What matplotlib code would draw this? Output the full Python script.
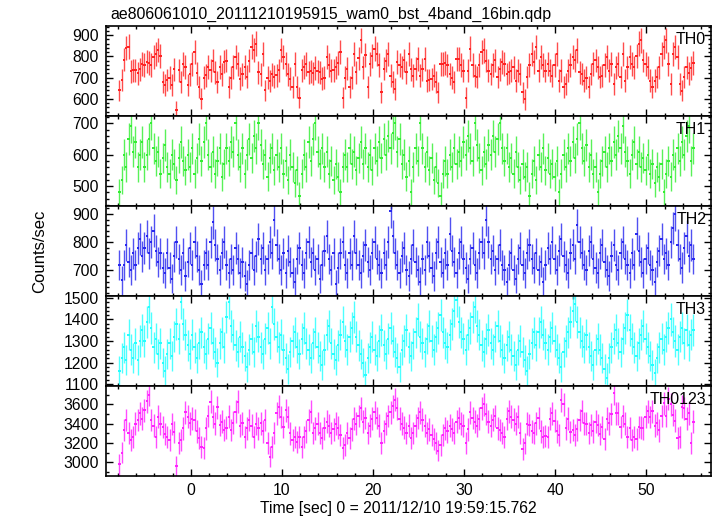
import numpy as np
import matplotlib
matplotlib.use("Agg")
import matplotlib.pyplot as plt
from matplotlib.ticker import MultipleLocator

plt.rcParams['font.family'] = ['Liberation Sans', 'DejaVu Sans']

# Время: начало первого бина и ширина бина (сек)
T0 = -7.95
DT = 0.25

title = "ae806061010_20111210195915_wam0_bst_4band_16bin.qdp"
xlabel = "Time [sec] 0 = 2011/12/10 19:59:15.762"
ylabel = "Counts/sec"
band_names = ["TH0", "TH1", "TH2", "TH3", "TH0123"]

th0 = [640, 690, 785, 840, 845, 730, 735, 735, 720, 740,
       765, 760, 775, 770, 760, 795, 810, 830, 800, 680,
       665, 690, 700, 665, 740, 545, 735, 680, 765, 750,
       665, 715, 765, 820, 720, 655, 600, 700, 710, 750,
       735, 780, 725, 680, 750, 715, 775, 780, 655, 700,
       750, 795, 765, 695, 715, 750, 705, 780, 845, 830,
       860, 725, 715, 810, 640, 700, 685, 715, 705, 710,
       735, 830, 795, 765, 715, 695, 655, 765, 655, 605,
       735, 750, 765, 725, 730, 720, 745, 730, 725,
       695, 700, 797, 760, 733, 735, 749, 770, 820, 606,
       700, 741, 654, 700, 812, 725, 790, 876, 749, 805,
       654, 765, 800, 836, 812, 760, 630, 741, 780, 812,
       709, 680, 646, 773, 760, 749, 781, 725, 812, 740,
       709, 741, 789, 709, 740, 789, 686, 690, 694, 709,
       680, 630, 765, 765, 770, 757, 717, 700, 678, 789,
       789, 760, 733, 606, 733, 836, 760, 709, 702, 760,
       820, 828, 780, 733, 717, 760, 781, 702, 740, 773,
       765, 717, 725, 733, 749, 686, 733,
       717, 630, 598, 702, 760, 812, 773, 844, 733, 797,
       760, 733, 765, 733, 709, 760, 812, 686, 733, 654,
       670, 733, 760, 797, 781, 828, 725, 717, 686, 700,
       654, 717, 765, 781, 749, 702, 709, 760, 797, 733,
       765, 670, 749, 765, 702, 812, 686, 749, 797, 765,
       749, 800, 860, 876, 781, 765, 749, 686, 654, 686,
       702, 749, 812, 844, 876, 765, 670, 812, 844, 797,
       670, 638, 702, 749, 720, 745, 770]

th1 = [480, 520, 600, 560, 650, 690, 610, 640, 560, 600,
       640, 560, 600, 650, 700, 620, 580, 610, 540, 590,
       630, 560, 540, 600, 570, 520, 590, 640, 580, 550,
       600, 560, 620, 540, 590, 650, 580, 640, 700, 600,
       560, 610, 540, 580, 620, 530, 570, 620, 580, 640,
       610, 700, 600, 560, 620, 540, 600, 650, 590, 660,
       620, 700, 630, 570, 600, 530, 590, 620, 550, 600,
       560, 620, 540, 580, 520, 600, 560, 510, 550, 470,
       540, 600, 560, 640, 580, 650, 700, 610, 570, 620,
       560, 610, 540, 580, 520, 570, 530, 480, 560, 600,
       560, 620, 570, 610, 550, 590, 640, 570, 620, 560,
       600, 550, 620, 580, 640, 590, 650, 600, 660, 620,
       670, 700, 610, 650, 570, 600, 530, 580, 480, 560,
       620, 580, 700, 620, 560, 610, 550, 590, 520, 560,
       510, 470, 540, 580, 540, 600, 560, 620, 570, 610,
       580, 640, 600, 660, 620, 580, 700, 630, 590, 550,
       610, 570, 630, 600, 660, 610, 650, 700, 620, 580,
       620, 560, 590, 540, 610, 560, 520, 570, 530, 560,
       470, 540, 580, 520, 600, 560, 620, 550, 590, 540,
       570, 530, 580, 480, 540, 600, 560, 620, 580, 640,
       590, 650, 700, 620, 580, 630, 560, 600, 540, 560,
       480, 540, 580, 610, 560, 620, 580, 640, 600, 660,
       620, 690, 610, 580, 540, 600, 640, 570, 610, 560,
       590, 550, 600, 540, 570, 510, 560, 530, 570, 480,
       540, 580, 530, 600, 560, 620, 580, 640, 600, 660,
       690, 580, 620]

th2 = [720, 665, 720, 790, 730, 700, 760, 720, 780, 810,
       750, 780, 820, 760, 800, 840, 770, 730, 760, 710,
       690, 760, 710, 670, 750, 800, 740, 700, 760, 680,
       730, 780, 720, 800, 750, 700, 650, 720, 760, 720,
       800, 870, 790, 740, 700, 760, 800, 720, 690, 740,
       700, 780, 740, 690, 730, 680, 650, 720, 760, 700,
       750, 810, 740, 780, 700, 740, 800, 760, 880, 790,
       740, 700, 760, 690, 770, 730, 690, 660, 740, 780,
       720, 690, 760, 800, 730, 760, 700, 740, 670, 720,
       770, 820, 740, 700, 760, 650, 710, 760, 800, 720,
       690, 760, 720, 820, 760, 720, 690, 750, 790, 730,
       700, 760, 800, 740, 720, 690, 760, 720, 800, 910,
       820, 760, 720, 690, 750, 780, 700, 680, 740, 790,
       730, 700, 660, 740, 700, 800, 750, 710, 680, 760,
       800, 730, 690, 760, 720, 830, 770, 730, 690, 760,
       800, 740, 710, 670, 740, 780, 720, 690, 760, 800,
       760, 880, 800, 740, 770, 700, 740, 790, 720, 700,
       660, 720, 760, 700, 670, 740, 780, 720, 690, 760,
       790, 740, 710, 760, 700, 730, 660, 720, 780, 740,
       800, 740, 700, 770, 810, 750, 720, 690, 760, 790,
       740, 860, 800, 760, 720, 700, 770, 800, 740, 710,
       690, 760, 790, 730, 700, 680, 750, 790, 720, 700,
       760, 800, 740, 720, 690, 760, 720, 830, 770, 730,
       690, 740, 780, 720, 700, 660, 730, 770, 810, 740,
       760, 720, 800, 850, 900, 790, 740, 710, 780, 820,
       750, 790, 740]

th3 = [1160, 1220, 1270, 1210, 1330, 1260, 1220, 1290, 1210, 1300,
       1350, 1300, 1390, 1460, 1360, 1270, 1310, 1240, 1290, 1200,
       1160, 1240, 1290, 1230, 1320, 1380, 1310, 1480, 1380, 1330,
       1280, 1240, 1330, 1270, 1220, 1290, 1340, 1270, 1240, 1310,
       1360, 1290, 1250, 1200, 1290, 1340, 1270, 1410, 1480, 1370,
       1330, 1280, 1250, 1320, 1270, 1230, 1180, 1260, 1310, 1250,
       1370, 1320, 1270, 1240, 1310, 1360, 1290, 1460, 1380, 1320,
       1270, 1330, 1260, 1220, 1170, 1250, 1300, 1340, 1270, 1240,
       1310, 1360, 1290, 1260, 1220, 1290, 1340, 1270, 1230, 1190,
       1260, 1330, 1370, 1290, 1240, 1210, 1280, 1330, 1390, 1300,
       1260, 1320, 1360, 1410, 1320, 1280, 1240, 1200, 1140, 1220,
       1270, 1320, 1260, 1230, 1300, 1350, 1280, 1240, 1310, 1360,
       1300, 1250, 1220, 1180, 1260, 1300, 1350, 1270, 1230, 1290,
       1340, 1400, 1320, 1290, 1250, 1310, 1370, 1300, 1260, 1320,
       1360, 1420, 1340, 1290, 1270, 1330, 1380, 1440, 1490, 1390,
       1340, 1310, 1260, 1330, 1360, 1410, 1460, 1370, 1330, 1280,
       1250, 1310, 1350, 1290, 1260, 1320, 1370, 1300, 1260, 1220,
       1280, 1320, 1260, 1230, 1190, 1260, 1300, 1250, 1210, 1160,
       1240, 1290, 1340, 1280, 1340, 1390, 1330, 1290, 1260, 1320,
       1360, 1300, 1260, 1220, 1180, 1250, 1300, 1340, 1390, 1440,
       1470, 1390, 1340, 1300, 1270, 1330, 1270, 1230, 1190, 1260,
       1310, 1260, 1220, 1170, 1130, 1220, 1270, 1310, 1350, 1290,
       1250, 1310, 1360, 1420, 1350, 1310, 1270, 1230, 1290, 1330,
       1370, 1310, 1270, 1230, 1190, 1150, 1220, 1270, 1310, 1260,
       1320, 1360, 1400, 1340, 1300, 1260, 1320, 1360, 1290, 1350,
       1280, 1330, 1350]

th0123 = [2980, 3100, 3333, 3437, 3300, 3230, 3264, 3400, 3437, 3506,
          3450, 3541, 3630, 3700, 3437, 3380, 3264, 3472, 3400, 3368,
          3290, 3264, 3230, 3395, 3316, 2960, 3200, 3230, 3351, 3520,
          3472, 3402, 3450, 3437, 3320, 3247, 3161, 3150, 3351, 3480,
          3627, 3472, 3400, 3570, 3385, 3420, 3333, 3360, 3472, 3333,
          3410, 3523, 3627, 3380, 3402, 3260, 3351, 3437, 3380, 3264,
          3400, 3351, 3402, 3320, 3437, 3200, 3057, 3161, 3300, 3506,
          3575, 3470, 3368, 3541, 3470, 3299, 3230, 3264, 3213, 3260,
          3161, 3264, 3320, 3437, 3523, 3300, 3351, 3400,
          3300, 3250, 3350, 3420, 3380, 3300, 3340, 3400, 3360, 3280,
          3150, 3180, 3300, 3250, 3340, 3450, 3400, 3480, 3560, 3420,
          3460, 3300, 3380, 3450, 3520, 3460, 3380, 3200, 3320, 3400,
          3480, 3520, 3580, 3650, 3560, 3450, 3400, 3360, 3300, 3380,
          3250, 3300, 3380, 3460, 3520, 3440, 3380, 3300, 3340, 3280,
          3240, 3200, 3120, 3180, 3280, 3350, 3320, 3380, 3340, 3300,
          3420, 3460, 3400, 3380, 3200, 3340, 3520, 3460, 3420, 3380,
          3450, 3560, 3600, 3500, 3420, 3380, 3440, 3480, 3350,
          3333, 3300, 3264, 3450, 3530, 3472, 3440, 3400, 3472, 3300,
          3140, 3195, 3400, 3385, 3320, 3300, 3402, 3460, 3320, 3260,
          3270, 3264, 3450, 3506, 3430, 3320, 3280, 3644, 3600, 3351,
          3450, 3310, 3333, 3280, 3340, 3437, 3530, 3402, 3400, 3300,
          3385, 3320, 3420, 3385, 3290, 3368, 3240, 3450, 3402, 3500,
          3720, 3506, 3506, 3368, 3480, 3400, 3264, 3350, 3230, 3264,
          3240, 3368, 3360, 3350, 3472, 3530, 3470, 3530, 3380, 3402,
          3330, 3480, 3610, 3480, 3660, 3600, 3490, 3430, 3250, 3260,
          3575, 3560, 3450, 3506, 3200, 3420]

series = [th0, th1, th2, th3, th0123]
colors = ["#ff2020", "#30ee30", "#2525ee", "#20ffff", "#ff20ff"]
ylims = [(519, 943), (437, 723), (609, 928), (1091, 1509), (2858, 3790)]
ymajor = [100, 100, 100, 100, 200]
yminor = [20, 20, 20, 20, 100]

W, H = 717, 516
fig = plt.figure(figsize=(W / 100, H / 100), dpi=100)
gs = fig.add_gridspec(5, 1, left=106 / W, right=711 / W,
                      top=1 - 26 / H, bottom=1 - 476 / H, hspace=0)

axes = []
for k, vals in enumerate(series):
    ax = fig.add_subplot(gs[k], sharex=axes[0] if axes else None)
    axes.append(ax)
    vals = np.asarray(vals, dtype=float)
    t = T0 + DT * (np.arange(len(vals)) + 0.5)
    err = np.sqrt(vals / DT)  # пуассоновская ошибка скорости счёта

    # вертикальные ошибки чуть прозрачнее, горизонтальные отрезки - бины
    ax.errorbar(t, vals, yerr=err, fmt='none', ecolor=colors[k],
                elinewidth=1.0, alpha=0.8, capsize=0)
    ax.errorbar(t, vals, xerr=DT / 2, fmt='none', ecolor=colors[k],
                elinewidth=1.4, capsize=0)

    ax.set_ylim(*ylims[k])
    ax.yaxis.set_major_locator(MultipleLocator(ymajor[k]))
    ax.yaxis.set_minor_locator(MultipleLocator(yminor[k]))
    ax.xaxis.set_major_locator(MultipleLocator(10))
    ax.xaxis.set_minor_locator(MultipleLocator(2))
    ax.tick_params(which='both', direction='in', top=True, right=True,
                   labelsize=11.3, width=1)
    ax.tick_params(which='major', length=5, pad=5)
    ax.tick_params(which='minor', length=2.5)
    for sp in ax.spines.values():
        sp.set_linewidth(1.2)
    if k < 4:
        ax.tick_params(labelbottom=False)
    ax.text(0.992, 0.93, band_names[k], transform=ax.transAxes,
            ha='right', va='top', fontsize=11.5)

axes[0].set_xlim(-9.3, 57.1)
# подпись оси X чуть левее центра, как в оригинале
fig.text(398 / W, 1 - 508 / H, xlabel, ha='center', va='center', fontsize=11.3)
fig.text(40 / W, 1 - 251 / H, ylabel, rotation=90, ha='center', va='center',
         fontsize=12)
fig.text(110 / W, 1 - 18.5 / H, title, ha='left', va='baseline', fontsize=11.4)

fig.savefig("out.png", dpi=100)
